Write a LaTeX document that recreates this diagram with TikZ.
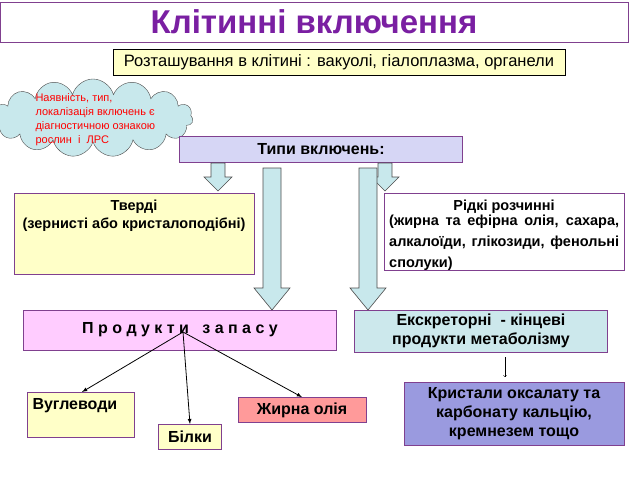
\documentclass[tikz,border=0pt]{standalone}
\usepackage{fontspec}
\setmainfont{Liberation Sans}
\usetikzlibrary{shapes.symbols}
\definecolor{pur}{HTML}{7A1FA2}
\definecolor{bord}{HTML}{80408F}
\definecolor{ylw}{HTML}{FFFFC8}
\definecolor{lav}{HTML}{D6D6F5}
\definecolor{pink}{HTML}{FFCCFF}
\definecolor{teal}{HTML}{CCE8EC}
\definecolor{viol}{HTML}{9A9ADF}
\definecolor{salm}{HTML}{FF9A9A}
\definecolor{arr}{HTML}{C8E8EC}
\tikzset{
 box/.style={draw=bord,line width=0.8pt,inner sep=2pt,align=center},
 barr/.style={draw=black!70,fill=arr,line width=0.6pt},
 bf/.style={font=\fontsize{16}{19}\selectfont\bfseries},
}
\begin{document}
\begin{tikzpicture}[x=1pt,y=-1pt]
\useasboundingbox (0,0) rectangle (638,479);
\node[box,minimum width=628,minimum height=40,fill=white] (title) at (314,22) {\color{pur}\fontsize{33}{35}\selectfont\bfseries Клітинні включення};
\node[box,draw=black,fill=ylw,minimum width=452,minimum height=26,font=\fontsize{16.5}{18}\selectfont] (loc) at (339,62) {Розташування в клітині : вакуолі, гіалоплазма, органели};
\node[cloud,cloud puffs=15,aspect=2.8,draw=black!70,fill=arr,minimum width=200,minimum height=78,inner sep=0pt] (cloud) at (93,118) {};
\node[align=left,text=red,font=\fontsize{11}{14}\selectfont,anchor=north west] (ctext) at (32,90) {Наявність, тип,\\локалізація включень є\\діагностичною ознакою\\рослин\ \ і\ \ ЛРС};
\node[box,fill=lav,minimum width=283,minimum height=26,bf] (types) at (321,149) {Типи включень:};
\node[box,fill=ylw,minimum width=240,minimum height=81,anchor=north west] (solid) at (14,193) {};
\node[font=\fontsize{14.5}{18}\selectfont\bfseries,align=center,anchor=north] (solidt) at (134,196) {Тверді\\(зернисті або кристалоподібні)};
\node[box,fill=white,minimum width=240,minimum height=77,anchor=north west] (liq) at (384,193) {};
\node[font=\fontsize{14.5}{17}\selectfont\bfseries,anchor=north] (liqt1) at (504,196) {Рідкі розчинні};
\node[font=\fontsize{14.5}{21}\selectfont\bfseries,align=justify,text width=230,anchor=north west,inner sep=0pt] (liqt2) at (389,215) {(жирна та ефірна олія, сахара, алкалоїди, глікозиди, фенольні сполуки)};
\node[box,fill=pink,minimum width=313,minimum height=40,bf] (prod) at (180,330) {П р о д у к т и\ \ \ з а п а с у};
\node[box,fill=teal,minimum width=253,minimum height=42,bf] (exc) at (481,331) {Екскреторні\ \ - кінцеві\\продукти метаболізму};
\node[box,fill=viol,minimum width=220,minimum height=63,bf] (cryst) at (514,414) {Кристали оксалату та\\карбонату кальцію,\\кремнезем тощо};
\node[box,fill=ylw,minimum width=107,minimum height=45,anchor=north west] (carb) at (27,392) {};
\node[anchor=north west,bf] at (29,395) {Вуглеводи};
\node[box,fill=ylw,minimum width=63,minimum height=25,bf] (prot) at (190,437) {Білки};
\node[box,fill=salm,minimum width=128,minimum height=25,bf] (oil) at (302,410) {Жирна олія};
% block arrows
\draw[barr] (211,163) -- (225,163) -- (225,177) -- (232,177) -- (218,191) -- (204,177) -- (211,177) -- cycle;
\draw[barr] (378,163) -- (392,163) -- (392,177) -- (399,177) -- (385,191) -- (371,177) -- (378,177) -- cycle;
\draw[barr] (263,168) -- (281,168) -- (281,288) -- (290,288) -- (272,310) -- (254,288) -- (263,288) -- cycle;
\draw[barr] (359,168) -- (377,168) -- (377,288) -- (386,288) -- (368,310) -- (350,288) -- (359,288) -- cycle;
\coordinate (hub) at (183,332);
\coordinate (carbtop) at (82,392);
\draw[-latex,thick] (hub) -- (carbtop);
\draw[-latex,thick] (hub) -- (prot.north);
\draw[-latex,thick] (hub) -- (oil.north);
\coordinate (e1) at (505,357);
\coordinate (e2) at (505,377);
\draw[->,thin] (e1) -- (e2);
\end{tikzpicture}
\end{document}
